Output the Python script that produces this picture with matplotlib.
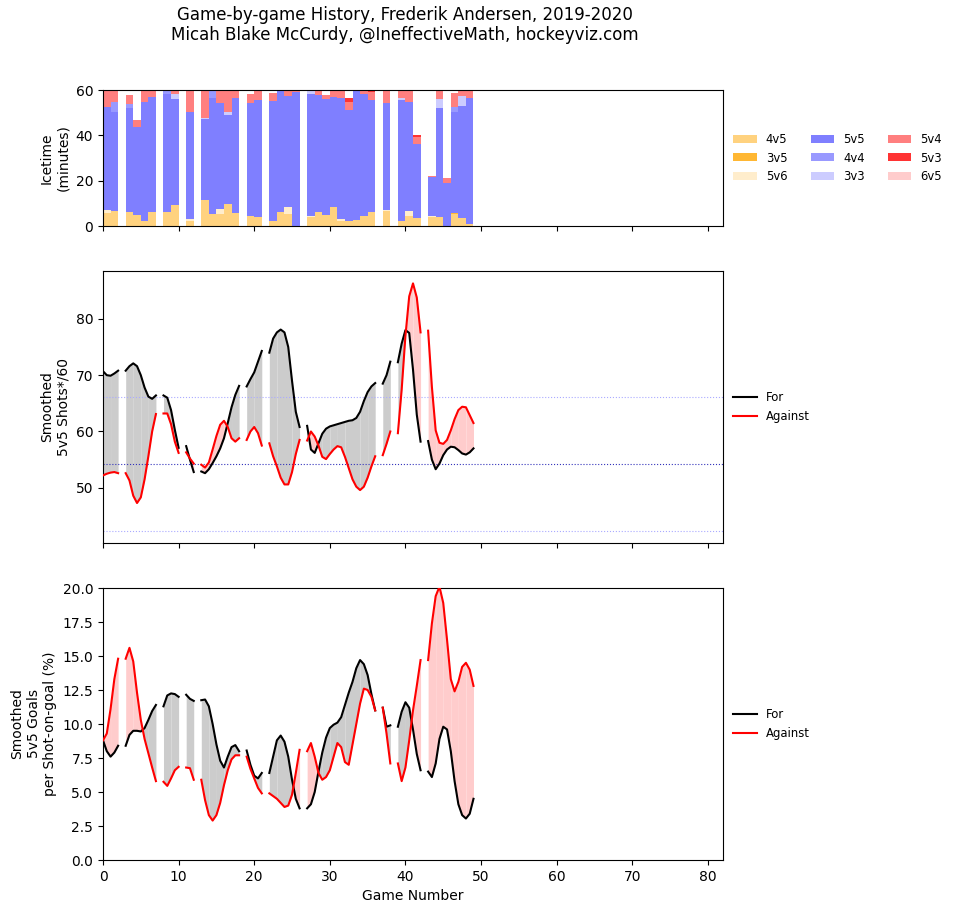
import numpy as np
import matplotlib
matplotlib.use("Agg")
import matplotlib.pyplot as plt
from matplotlib.patches import Patch
from matplotlib.lines import Line2D

N = float("nan")

# ---------------- Icetime per game (minutes), index = game slot 0..48 ----------------
sit_labels = ["4v5", "3v5", "5v6", "5v5", "4v4", "3v3", "5v4", "5v3", "6v5"]
sit_colors = ["#FFD27F", "#FFB733", "#FFEDCC", "#7F7FFF", "#9999FF", "#CCCCFF",
              "#FF7F7F", "#FF3333", "#FFCCCC"]

t_4v5 = [5.7, 6.6, 0, 6.2, 4.7, 2.2, 6.2, 0, 6.2, 9.1, 0, 2.1, 0, 11.3, 5.5, 5.5, 9.6, 5.7, 0,
         4.3, 3.8, 0, 2.1, 6.2, 5.5, 0, 0, 4.0, 6.2, 4.7, 8.4, 2.1, 2.1, 2.5, 4.3, 6.2, 0,
         6.5, 0, 2.1, 4.3, 3.5, 0, 3.8, 3.8, 0, 5.3, 3.5, 0.7]
t_3v5 = [0]*46 + [0.4, 0, 0]
t_5v6 = [1.2, 0, 0, 0, 0, 0, 0, 0, 0, 0, 0, 0.8, 0, 0, 0, 1.9, 0, 0, 0,
         0, 0, 0, 0, 0, 2.9, 0, 0, 0.3, 0, 0, 0, 0.8, 0, 0, 0, 0, 0,
         0.4, 0, 0, 2.2, 0, 0, 0.5, 0, 0, 0, 0, 0]
t_5v5 = [45.7, 43.8, 0, 46.0, 39.1, 52.3, 50.8, 0, 52.0, 46.9, 0, 47.5, 0, 35.9, 51.0, 46.7, 39.3, 50.6, 0,
         49.8, 51.8, 0, 53.0, 53.8, 48.9, 59.0, 0, 53.9, 51.6, 51.3, 48.6, 53.4, 49.0, 57.5, 53.9, 49.4, 0,
         47.5, 0, 53.5, 48.3, 32.6, 0, 17.2, 48.4, 19.0, 44.7, 49.6, 55.9]
t_4v4 = [0, 4.1, 0, 1.5, 0, 0, 0, 0, 1.8, 0, 0, 0, 0, 0, 3.5, 0, 0, 0, 0,
         0, 0, 0, 0, 0, 0, 0, 0, 0, 0, 0, 0, 0, 0, 0, 0, 0, 0,
         0, 0, 0, 0, 0, 0, 0, 0, 0, 2.2, 0, 0]
t_3v3 = [0, 0, 0, 0, 0, 0, 0, 0, 0, 2.2, 0, 0, 0, 0.6, 0, 0, 1.5, 0, 0,
         0, 0, 0, 0, 0, 0, 0, 0, 1.8, 0, 0, 0, 0, 0, 0, 0, 0, 0,
         0, 0, 1.0, 0, 0, 0, 0, 3.8, 0, 0, 4.2, 0]
t_5v4 = [7.4, 5.5, 0, 4.1, 2.9, 5.5, 3.0, 0, 0, 1.8, 0, 9.6, 0, 12.2, 0, 5.9, 9.6, 3.7, 0,
         4.0, 3.9, 0, 3.4, 0, 2.7, 1.0, 0, 0, 2.2, 1.8, 3.0, 3.7, 3.7, 0, 1.8, 3.4, 0,
         5.6, 0, 3.4, 5.2, 3.0, 0, 0.5, 3.5, 2.2, 6.2, 2.2, 2.9]
t_5v3 = [0]*32 + [1.8, 0, 0, 1.0, 0, 0, 0, 0, 0, 1.0, 0, 0, 0, 0, 0, 0, 0]
t_6v5 = [0]*49

# ---------------- Smoothed series, sampled every half game from 0 to 49 ----------------
shots_for = [70.7, 70.0, 69.9, 70.3, 70.8, N, 70.8, 71.6, 72.1, 71.6, 70.0, 67.8, 66.2, 65.8, 66.4, N,
             66.4, 66.0, 63.8, 60.3, 57.1, N, 57.4, 55.0, 52.8, N, 52.9, 52.6, 53.3, 54.4, 55.6, 57.0,
             58.8, 61.5, 64.3, 66.5, 68.1, N, 68.0, 69.3, 70.5, 72.4, 74.3, N, 74.0, 76.5, 77.6, 78.1,
             77.6, 75.0, 69.0, 63.5, 60.8, N, 61.0, 56.8, 56.2, 57.9, 59.6, 60.5, 60.9, 61.1, 61.3,
             61.5, 61.7, 61.9, 62.0, 62.4, 63.5, 65.4, 67.0, 68.0, 68.6, N, 68.5, 70.0, 72.4, N, 72.3,
             75.6, 78.0, 77.5, 71.0, 63.0, 58.2, N, 58.3, 55.0, 53.3, 54.3, 55.8, 56.8, 57.3, 57.2,
             56.7, 56.1, 55.9, 56.3, 57.0]
shots_against = [52.2, 52.5, 52.7, 52.8, 52.6, N, 52.6, 51.3, 48.6, 47.3, 48.3, 51.5, 55.6, 60.0, 63.1, N,
                 63.2, 63.2, 61.3, 58.2, 56.2, N, 56.3, 55.2, 54.3, N, 54.1, 53.6, 54.5, 56.8, 59.2, 61.2,
                 61.9, 60.8, 58.8, 58.2, 58.8, N, 58.5, 60.0, 60.8, 59.7, 57.5, N, 57.9, 55.6, 53.8, 51.8,
                 50.6, 50.6, 52.8, 56.0, 58.5, N, 58.4, 60.0, 59.1, 57.5, 55.5, 55.1, 56.0, 56.8, 57.4,
                 57.2, 55.5, 53.5, 51.5, 50.2, 49.6, 50.2, 51.8, 53.8, 55.6, N, 55.8, 57.8, 60.0, N, 59.7,
                 67.4, 77.0, 84.0, 86.3, 83.8, 77.6, N, 77.9, 67.9, 60.2, 58.0, 57.8, 58.5, 60.2, 62.2,
                 63.8, 64.4, 64.3, 62.9, 61.5]
shots_ref = [54.3, 66.2, 42.4]

sv_for = [8.8, 8.0, 7.6, 7.9, 8.4, N, 8.4, 9.2, 9.5, 9.5, 9.45, 9.7, 10.3, 10.95, 11.4, N,
          11.3, 12.1, 12.25, 12.2, 12.0, N, 12.15, 11.85, 11.7, N, 11.75, 11.8, 11.3, 10.0, 8.5, 7.3,
          6.8, 7.6, 8.3, 8.45, 8.0, N, 8.05, 7.0, 6.2, 6.0, 6.4, N, 6.4, 7.6, 8.8, 9.15,
          8.7, 7.6, 5.9, 4.5, 3.8, N, 3.8, 4.1, 5.0, 6.5, 7.9, 9.0, 9.7, 9.95, 10.1,
          10.5, 11.4, 12.3, 13.1, 14.1, 14.7, 14.4, 13.6, 12.2, 11.0, N, 11.2, 9.8, 9.9, N, 9.8,
          10.9, 11.6, 11.2, 9.6, 7.8, 6.6, N, 6.5, 6.1, 7.1, 8.9, 9.8, 9.6, 8.0, 5.8,
          4.1, 3.3, 3.05, 3.4, 4.5]
sv_against = [8.8, 9.3, 11.1, 13.3, 14.8, N, 14.8, 15.6, 14.6, 12.3, 10.3, 8.9, 7.85, 6.8, 5.8, N,
              5.75, 5.45, 6.0, 6.6, 6.85, N, 6.8, 6.75, 5.9, N, 5.9, 4.4, 3.3, 2.9, 3.3, 4.2,
              5.5, 6.6, 7.4, 7.7, 7.7, N, 7.6, 6.7, 6.0, 5.3, 4.9, N, 4.9, 4.7, 4.5, 4.2,
              3.9, 4.0, 4.8, 6.4, 8.1, N, 8.0, 8.6, 7.6, 6.4, 5.9, 6.1, 6.6, 7.6, 8.6,
              8.3, 7.2, 7.0, 8.5, 10.0, 11.5, 12.6, 12.5, 12.0, 11.0, N, 11.2, 9.3, 7.1, N, 7.1,
              5.8, 6.8, 8.8, 11.0, 12.8, 14.7, N, 14.7, 17.4, 19.4, 20.1, 18.9, 16.2, 13.3, 12.4,
              13.1, 14.2, 14.5, 14.0, 12.8]

title = "Game-by-game History, Frederik Andersen, 2019-2020\nMicah Blake McCurdy, @IneffectiveMath, hockeyviz.com"

# ---------------- Figure ----------------
W, H = 955, 913
fig = plt.figure(figsize=(W / 100, H / 100), dpi=100)

def px_axes(left, top, right, bottom):
    return fig.add_axes([left / W, 1 - bottom / H, (right - left) / W, (bottom - top) / H])

ax1 = px_axes(103, 90, 723, 226)
ax2 = px_axes(103, 271, 723, 543)
ax3 = px_axes(103, 588, 723, 860)

fig.text(405 / W, 1 - 25 / H, title, ha="center", va="center", fontsize=12)

# Top: stacked icetime bars
games = np.arange(len(t_5v5))
stacks = [t_4v5, t_3v5, t_5v6, t_5v5, t_4v4, t_3v3, t_5v4, t_5v3, t_6v5]
bottom = np.zeros(len(games))
for vals, col in zip(stacks, sit_colors):
    v = np.array(vals, dtype=float)
    ax1.bar(games, v, width=1.0, bottom=bottom, align="edge", color=col, linewidth=0)
    bottom += v
ax1.set_ylim(0, 60)
ax1.set_yticks([0, 20, 40, 60])
ax1.set_ylabel("Icetime\n(minutes)")
handles = [Patch(facecolor=c, edgecolor="none", label=l) for l, c in zip(sit_labels, sit_colors)]
ax1.legend(handles=handles, ncol=3, loc="center left", bbox_to_anchor=(1.0, 0.5),
           frameon=False, fontsize="small")

xg = np.arange(len(shots_for)) * 0.5

def draw_pair(ax, f, a):
    f = np.array(f, dtype=float)
    a = np.array(a, dtype=float)
    ngames = (len(f) - 1) // 2
    for i in range(ngames):
        s = slice(2 * i, 2 * i + 3)
        if np.isnan(f[2 * i + 1]):
            continue
        xs, fs, as_ = xg[s], f[s], a[s]
        ax.fill_between(xs, fs, as_, where=fs >= as_, interpolate=True,
                        color="#cccccc", linewidth=0, zorder=1)
        ax.fill_between(xs, fs, as_, where=fs <= as_, interpolate=True,
                        color="#ffcccc", linewidth=0, zorder=1)
    ax.plot(xg, f, color="black", lw=1.5, zorder=3)
    ax.plot(xg, a, color="red", lw=1.5, zorder=3)
    ax.legend(handles=[Line2D([], [], color="black", lw=1.5, label="For"),
                       Line2D([], [], color="red", lw=1.5, label="Against")],
              loc="center left", bbox_to_anchor=(1.0, 0.5), frameon=False, fontsize="small")

draw_pair(ax2, shots_for, shots_against)
ax2.axhline(shots_ref[0], color="#3333bb", lw=0.8, ls=":", zorder=2)
ax2.axhline(shots_ref[1], color="#aaaaff", lw=0.8, ls=":", zorder=2)
ax2.axhline(shots_ref[2], color="#aaaaff", lw=0.8, ls=":", zorder=2)
ax2.set_ylim(40.2, 88.5)
ax2.set_yticks([50, 60, 70, 80])
ax2.set_ylabel("Smoothed\n5v5 Shots*/60")

draw_pair(ax3, sv_for, sv_against)
ax3.set_ylim(0, 20)
ax3.set_yticks(np.arange(0, 20.1, 2.5))
ax3.set_ylabel("Smoothed\n5v5 Goals\nper Shot-on-goal (%)")
ax3.set_xlabel("Game Number")

for ax in (ax1, ax2, ax3):
    ax.set_xlim(0, 82)
    ax.set_xticks(np.arange(0, 81, 10))
for ax in (ax1, ax2):
    ax.tick_params(labelbottom=False)

fig.savefig("out.png", dpi=100)
